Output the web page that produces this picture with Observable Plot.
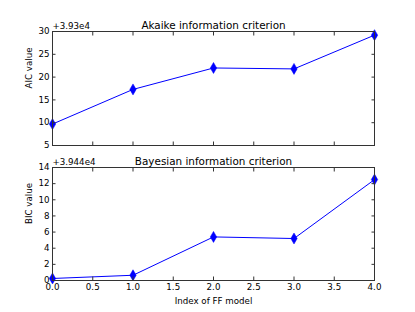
<!DOCTYPE html>
<html>
<head>
<meta charset="utf-8">
<script src="https://cdn.jsdelivr.net/npm/d3@7"></script>
<script src="https://cdn.jsdelivr.net/npm/@observablehq/plot@0.6"></script>
<style>
  html, body { margin: 0; padding: 0; background: #fff; }
  #wrap { position: relative; width: 415px; height: 312px; }
  #wrap svg { position: absolute; left: 0; font-family: "DejaVu Sans", sans-serif; }
</style>
</head>
<body>
<div id="wrap"></div>
<script>
// Data
const modelIndex = [0, 1, 2, 3, 4];
const aicBase = 39300;      // +3.93e4
const aicOffset = [9.7, 17.3, 22.0, 21.8, 29.2];
const bicBase = 39440;      // +3.944e4
const bicOffset = [0.25, 0.65, 5.4, 5.2, 12.5];
const xTicks = [0, 0.5, 1, 1.5, 2, 2.5, 3, 3.5, 4];
const aicTicks = [5, 10, 15, 20, 25, 30];
const bicTicks = [0, 2, 4, 6, 8, 10, 12, 14];

const thinDiamond = {
  draw(ctx, size) {
    const r = Math.sqrt(size / Math.PI);
    const w = r * 0.58;
    ctx.moveTo(0, -r); ctx.lineTo(w, 0); ctx.lineTo(0, r); ctx.lineTo(-w, 0); ctx.closePath();
  }
};

const W = 415, H = 156;
const frameColor = "#333";
const fs = 8.7;

function panel({values, base, yDomain, yTicks, title, ylabel, showX, mt, mb}) {
  const data = modelIndex.map((x, i) => ({x, y: values[i]}));
  const marks = [
    Plot.line(data, {x: "x", y: "y", stroke: "blue", strokeWidth: 1}),
    Plot.dot(data, {x: "x", y: "y", fill: "blue", stroke: "blue", strokeWidth: 0.5, symbol: thinDiamond, r: 5.5}),
    Plot.frame({stroke: frameColor, strokeWidth: 1}),
    // inward ticks on all four sides
    Plot.axisY(yTicks, {anchor: "left", tickSize: -3.5, text: null, stroke: frameColor, label: null}),
    Plot.axisY(yTicks, {anchor: "right", tickSize: -3.5, text: null, stroke: frameColor, label: null}),
    Plot.axisX(xTicks, {anchor: "bottom", tickSize: -3.5, text: null, stroke: frameColor, label: null}),
    Plot.axisX(xTicks, {anchor: "top", tickSize: -3.5, text: null, stroke: frameColor, label: null}),
    Plot.axisY(yTicks, {anchor: "left", tickSize: 0, tickPadding: 3, label: null, fontSize: fs, fill: "#000", tickFormat: d => String(d)}),
    Plot.text([title], {frameAnchor: "top", text: d => d, dy: -3, lineAnchor: "bottom", fontSize: 10.4, fill: "#000"}),
    Plot.text(["+" + (base / 1e4) + "e4"], {frameAnchor: "top-left", text: d => d, dy: -3, dx: 0, lineAnchor: "bottom", textAnchor: "start", fontSize: fs, fill: "#000"}),
    Plot.text([ylabel], {frameAnchor: "left", text: d => d, rotate: -90, dx: -23, fontSize: fs, fill: "#000"})
  ];
  if (showX) {
    marks.push(Plot.axisX(xTicks, {anchor: "bottom", tickSize: 0, tickPadding: 3, label: null, fontSize: fs, fill: "#000", tickFormat: d => d.toFixed(1)}));
    marks.push(Plot.text(["Index of FF model"], {frameAnchor: "bottom", text: d => d, dy: 23, lineAnchor: "bottom", fontSize: fs, fill: "#000"}));
  }
  return Plot.plot({
    width: W, height: H,
    marginLeft: 52, marginRight: 41, marginTop: mt, marginBottom: mb,
    x: {domain: [0, 4]},
    y: {domain: yDomain},
    style: {fontFamily: "DejaVu Sans, sans-serif", fontSize: fs + "px", overflow: "visible"},
    marks
  });
}

const topPanel = panel({values: aicOffset, base: aicBase, yDomain: [5, 30], yTicks: aicTicks,
  title: "Akaike information criterion", ylabel: "AIC value", showX: false, mt: 31, mb: 11});
const bottomPanel = panel({values: bicOffset, base: bicBase, yDomain: [0, 14], yTicks: bicTicks,
  title: "Bayesian information criterion", ylabel: "BIC value", showX: true, mt: 11, mb: 32});
topPanel.style.top = "0px";
bottomPanel.style.top = "156px";
const wrap = document.getElementById("wrap");
wrap.appendChild(topPanel);
wrap.appendChild(bottomPanel);
</script>
</body>
</html>
